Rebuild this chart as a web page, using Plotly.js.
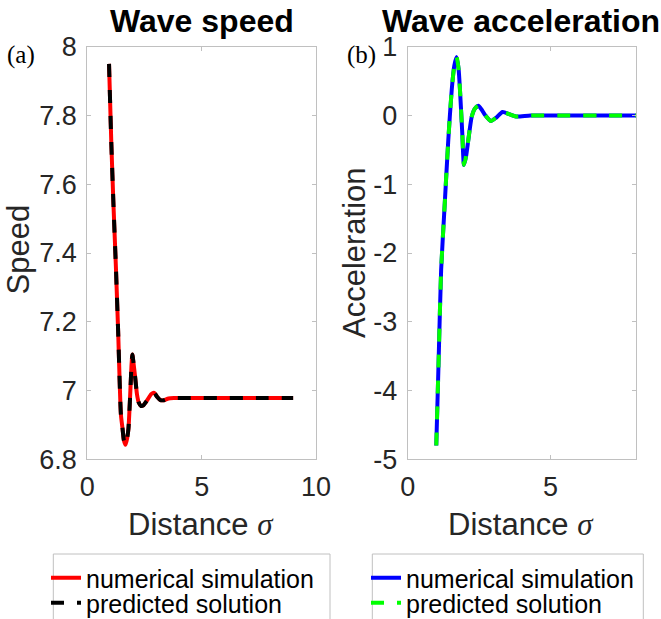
<!DOCTYPE html>
<html>
<head>
<meta charset="utf-8">
<script src="https://cdn.plot.ly/plotly-3.0.1.min.js"></script>
<style>html,body{margin:0;padding:0;background:#fff;}#chart{width:661px;height:619px;}</style>
</head>
<body>
<div id="chart"></div>
<script>
// ---- data ----
var speedX = [0.95, 1.05, 1.15, 1.25, 1.35, 1.47, 1.54, 1.60, 1.67, 1.74, 1.80, 1.87, 1.93, 1.97, 2.02, 2.09, 2.17, 2.25, 2.35, 2.45, 2.6, 2.8, 2.93, 3.05, 3.2, 3.35, 3.55, 3.8, 4.5, 6.0, 7.5, 9.0];
var speedSim = [7.95, 7.72, 7.53, 7.36, 7.17, 6.93, 6.89, 6.855, 6.842, 6.86, 6.89, 6.98, 7.07, 7.105, 7.08, 7.04, 6.99, 6.965, 6.955, 6.957, 6.97, 6.99, 6.993, 6.982, 6.972, 6.972, 6.977, 6.978, 6.978, 6.978, 6.978, 6.978];
var speedPred = [7.95, 7.72, 7.53, 7.36, 7.17, 6.93, 6.89, 6.855, 6.842, 6.86, 6.89, 6.98, 7.07, 7.105, 7.08, 7.04, 6.99, 6.965, 6.955, 6.957, 6.97, 6.99, 6.993, 6.982, 6.972, 6.972, 6.977, 6.978, 6.978, 6.978, 6.978, 6.978];

var accX = [1.0, 1.08, 1.17, 1.29, 1.42, 1.54, 1.63, 1.71, 1.78, 1.83, 1.91, 1.97, 2.04, 2.12, 2.24, 2.35, 2.47, 2.58, 2.70, 2.91, 3.1, 3.32, 3.55, 3.79, 4.3, 5.5, 7.0, 8.0];
var accSim = [-4.8, -3.6, -2.25, -1.33, -0.36, 0.37, 0.72, 0.85, 0.68, 0.37, -0.26, -0.72, -0.6, -0.36, -0.02, 0.1, 0.14, 0.09, 0.01, -0.08, -0.03, 0.05, 0.02, -0.015, 0.0, 0.0, 0.0, 0.0];
var accPred = [-4.8, -3.6, -2.25, -1.33, -0.36, 0.37, 0.72, 0.85, 0.68, 0.37, -0.26, -0.72, -0.6, -0.36, -0.02, 0.1, 0.14, 0.09, 0.01, -0.08, -0.03, 0.05, 0.02, -0.015, 0.0, 0.0, 0.0, 0.0];

var speedYTicks = [6.8, 7, 7.2, 7.4, 7.6, 7.8, 8];
var speedYLabels = ['6.8', '7', '7.2', '7.4', '7.6', '7.8', '8'];
var speedXTicks = [0, 5, 10];
var speedXLabels = ['0', '5', '10'];
var accYTicks = [-5, -4, -3, -2, -1, 0, 1];
var accYLabels = ['-5', '-4', '-3', '-2', '-1', '0', '1'];
var accXTicks = [0, 5];
var accXLabels = ['0', '5'];

var seriesNames = ['numerical simulation', 'predicted solution'];
var panelTitles = ['Wave speed', 'Wave acceleration'];
var yTitles = ['Speed', 'Acceleration'];
var xTitle = 'Distance';
var panelLabels = ['(a)', '(b)'];

// ---- layout helpers (pixel -> paper) ----
var W = 661, H = 619;
function px(p) { return p / W; }
function py(p) { return 1 - p / H; }

var FONT = 'Liberation Sans, Arial, sans-serif';
var SERIF = 'Liberation Serif, Times New Roman, serif';
var LW = 4;
var DASH = '13px,13px';

var traces = [
  {x: speedX, y: speedSim, xaxis: 'x', yaxis: 'y', type: 'scatter', mode: 'lines', name: seriesNames[0],
   line: {color: '#ff0000', width: LW, shape: 'spline', smoothing: 0.6}, legend: 'legend'},
  {x: speedX, y: speedPred, xaxis: 'x', yaxis: 'y', type: 'scatter', mode: 'lines', name: seriesNames[1],
   line: {color: '#000000', width: LW, dash: DASH, shape: 'spline', smoothing: 0.6}, legend: 'legend3'},
  {x: accX, y: accSim, xaxis: 'x2', yaxis: 'y2', type: 'scatter', mode: 'lines', name: seriesNames[0],
   line: {color: '#0000ff', width: LW, shape: 'spline', smoothing: 0.6}, legend: 'legend2'},
  {x: accX, y: accPred, xaxis: 'x2', yaxis: 'y2', type: 'scatter', mode: 'lines', name: seriesNames[1],
   line: {color: '#00ff00', width: LW, dash: DASH, shape: 'spline', smoothing: 0.6}, legend: 'legend4'}
];

var axisCommon = {
  showline: true, mirror: 'ticks', linecolor: '#c0c0c0', linewidth: 1,
  ticks: 'inside', ticklen: 4, tickcolor: '#c0c0c0', tickwidth: 1,
  showgrid: false, zeroline: false,
  tickfont: {family: FONT, size: 27, color: '#262626'}
};
function merge(a, b) { var o = {}, k; for (k in a) o[k] = a[k]; for (k in b) o[k] = b[k]; return o; }

var yDom = [py(459.3), py(46.7)];

var legendCommon = {
  font: {family: FONT, size: 25, color: '#000'},
  bgcolor: 'rgba(0,0,0,0)', borderwidth: 0,
  xanchor: 'left', yanchor: 'middle', itemwidth: 30
};

var annFont = {family: FONT, size: 31, color: '#262626'};
var titleFont = {family: FONT, size: 32, color: '#000'};
var sigma = ' <span style="font-family:\'Liberation Serif\', serif"><i>σ</i></span>';
function ann(text, x, y, font, extra) {
  return merge({text: text, x: px(x), y: py(y), xref: 'paper', yref: 'paper', showarrow: false,
                xanchor: 'center', yanchor: 'middle', font: font}, extra || {});
}
var annotations = [
  ann('<b>' + panelTitles[0] + '</b>', 201.6, 21, titleFont),
  ann('<b>' + panelTitles[1] + '</b>', 521.0, 21, titleFont),
  ann(panelLabels[0], 20.5, 55, {family: SERIF, size: 25, color: '#000'}),
  ann(panelLabels[1], 361.7, 55, {family: SERIF, size: 25, color: '#000'}),
  ann(xTitle + sigma, 201, 524, annFont),
  ann(xTitle + sigma, 521, 524, annFont),
  ann(yTitles[0], 18.5, 250, annFont, {textangle: -90}),
  ann(yTitles[1], 355, 253, annFont, {textangle: -90})
];

var boxLine = {color: '#c0c0c0', width: 1};
var shapes = [
  {type: 'rect', xref: 'paper', yref: 'paper', x0: px(53.3), x1: px(330), y0: py(554), y1: py(660), line: boxLine, fillcolor: 'rgba(0,0,0,0)', layer: 'below'},
  {type: 'rect', xref: 'paper', yref: 'paper', x0: px(372.3), x1: px(643.3), y0: py(554), y1: py(660), line: boxLine, fillcolor: 'rgba(0,0,0,0)', layer: 'below'}
];

var layout = {
  width: W, height: H,
  margin: {l: 0, r: 0, t: 0, b: 0, autoexpand: false},
  paper_bgcolor: '#ffffff', plot_bgcolor: '#ffffff',
  showlegend: true,
  xaxis: merge(axisCommon, {domain: [px(87.3), px(316)], range: [0, 10], tickvals: speedXTicks, ticktext: speedXLabels, anchor: 'y', ticklabelstandoff: 3}),
  yaxis: merge(axisCommon, {domain: yDom, range: [6.8, 8], tickvals: speedYTicks, ticktext: speedYLabels, anchor: 'x', ticklabelstandoff: 4}),
  xaxis2: merge(axisCommon, {domain: [px(407.7), px(636.3)], range: [0, 8], tickvals: accXTicks, ticktext: accXLabels, anchor: 'y2', ticklabelstandoff: 3}),
  yaxis2: merge(axisCommon, {domain: yDom, range: [-5, 1], tickvals: accYTicks, ticktext: accYLabels, anchor: 'x2', ticklabelstandoff: 4}),
  legend: merge(legendCommon, {x: px(46), y: py(578)}),
  legend3: merge(legendCommon, {x: px(46), y: py(603)}),
  legend2: merge(legendCommon, {x: px(366), y: py(578)}),
  legend4: merge(legendCommon, {x: px(366), y: py(603)}),
  shapes: shapes,
  annotations: annotations
};

Plotly.newPlot('chart', traces, layout, {displayModeBar: false, staticPlot: true});
</script>
</body>
</html>
